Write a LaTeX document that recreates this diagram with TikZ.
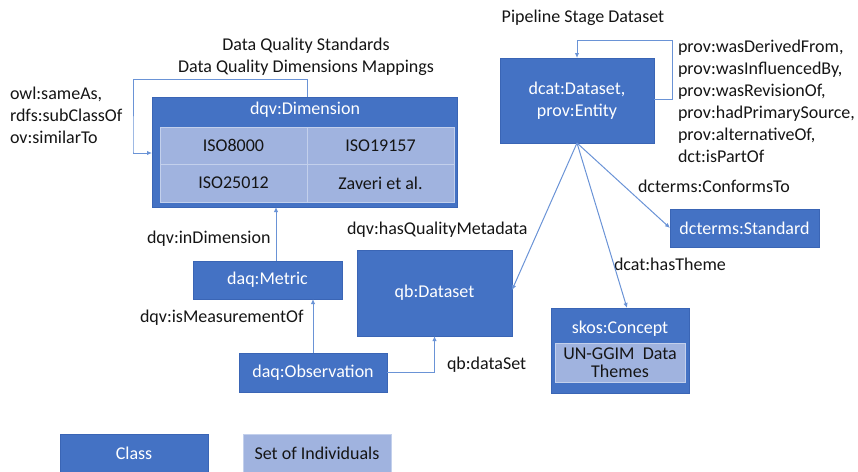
\documentclass[tikz,border=0pt]{standalone}
\usepackage{fontspec}
\setmainfont{Carlito}
\usetikzlibrary{arrows.meta,calc}
\definecolor{clsblue}{HTML}{4472C4}
\definecolor{clsedge}{HTML}{3A65B5}
\definecolor{indfill}{HTML}{A0B3DF}
\definecolor{indedge}{HTML}{C3D0EC}
\definecolor{linkblue}{HTML}{6A93D6}
\definecolor{txt}{HTML}{151515}
\begin{document}
\begin{tikzpicture}[x=1pt,y=-1pt,
  every node/.style={font=\fontsize{18}{22}\selectfont, inner sep=0pt, outer sep=0pt},
  cls/.style={fill=clsblue, draw=clsedge, line width=0.6pt, text=white, anchor=north west, align=center},
  ind/.style={fill=indfill, draw=indedge, line width=0.8pt, text=txt, anchor=north west, align=center},
  lbl/.style={text=txt, anchor=north west, align=left},
  conn/.style={draw=linkblue, line width=1pt, -{Latex[length=5pt,width=4.5pt]}}
]
\useasboundingbox (0,0) rectangle (858,471);

% dqv:Dimension
\node[cls, minimum width=305pt, minimum height=110pt] (dim) at (152,97) {};
\node[text=white] (dimt) at (305,110) {dqv:Dimension};
\node[ind, minimum width=147pt, minimum height=37pt] (c1) at (160,127) {ISO8000};
\node[ind, minimum width=147pt, minimum height=37pt] (c2) at (307,127) {ISO19157};
\node[ind, minimum width=147pt, minimum height=38pt] (c3) at (160,164) {ISO25012};
\node[ind, minimum width=147pt, minimum height=38pt] (c4) at (307,164) {Zaveri et al.};

% dcat:Dataset
\node[cls, minimum width=154pt, minimum height=85pt] (dcat) at (500,58) {dcat:Dataset,\\prov:Entity};
% dcterms:Standard
\node[cls, minimum width=149pt, minimum height=38pt] (std) at (670,209) {dcterms:Standard};
% qb:Dataset
\node[cls, minimum width=155pt, minimum height=86pt] (qb) at (357,250) {qb:Dataset};
% daq:Metric
\node[cls, minimum width=149pt, minimum height=38pt] (metric) at (193,261) {daq:Metric};
% daq:Observation
\node[cls, minimum width=148pt, minimum height=39pt] (obs) at (239,353) {daq:Observation};
% skos:Concept
\node[cls, minimum width=138pt, minimum height=85pt] (skos) at (551,308) {};
\node[text=white] (skost) at (620,329) {skos:Concept};
\node[ind, minimum width=130pt, minimum height=39pt] (themes) at (555,343) {UN-GGIM\ \ Data\\[-4pt]Themes};

% legend
\node[cls, minimum width=148pt, minimum height=38pt] (lgc) at (60,434) {Class};
\node[ind, minimum width=148pt, minimum height=38pt] (lgi) at (243,434) {Set of Individuals};

% labels
\node[text=txt, align=center] (dqs) at (306,57) {Data Quality Standards\\Data Quality Dimensions Mappings};
\node[lbl] (owl) at (10,87) {owl:sameAs,\\rdfs:subClassOf\\ov:similarTo};
\node[text=txt] (pipe) at (583,18) {Pipeline Stage Dataset};
\node[lbl] (prov) at (678,40) {prov:wasDerivedFrom,\\prov:wasInfluencedBy,\\prov:wasRevisionOf,\\prov:hadPrimarySource,\\prov:alternativeOf,\\dct:isPartOf};
\node[lbl] (conf) at (638,180) {dcterms:ConformsTo};
\node[lbl] (theme) at (614,258) {dcat:hasTheme};
\node[lbl] (hqm) at (347,222) {dqv:hasQualityMetadata};
\node[lbl] (indim) at (147,231) {dqv:inDimension};
\node[lbl] (ismo) at (140,310) {dqv:isMeasurementOf};
\node[lbl] (qbds) at (447,357) {qb:dataSet};

% connectors
\coordinate (dloopA) at ($(dim.north west)+(155,0)$);
\draw[conn] (dloopA) -- ++(0,-18) -| ($(dim.west)+(-19,0)$) |- ($(dim.north west)+(0,56)$);
\draw[conn] ([xshift=8.5pt]metric.north) -- ([xshift=8.5pt]metric.north |- dim.south);
\draw[conn] (obs.north) -- (obs.north |- metric.south);
\draw[conn] (obs.east) -| (qb.south);
\draw[conn] ([yshift=1.5pt]dcat.east) -- ++(18,0) |- ([yshift=18pt]dcat.north) -- (dcat.north);
\draw[conn] (dcat.south) -- (std.west);
\draw[conn] (dcat.south) -- ([yshift=3pt]qb.east);
\draw[conn] (dcat.south) -- ([xshift=7pt]skos.north);
\end{tikzpicture}
\end{document}
